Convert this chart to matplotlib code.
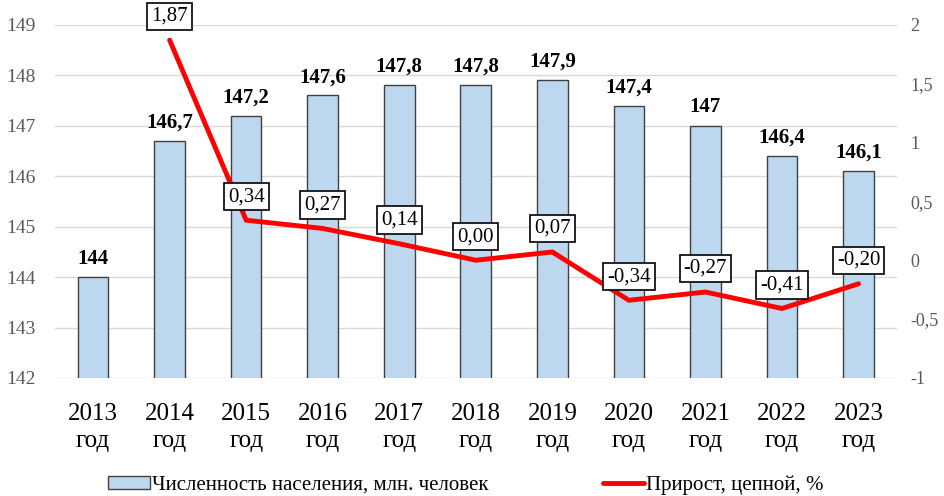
import matplotlib
matplotlib.use('Agg')
import matplotlib.pyplot as plt

# data
years = ['2013', '2014', '2015', '2016', '2017', '2018', '2019', '2020', '2021', '2022', '2023']
population = [144, 146.7, 147.2, 147.6, 147.8, 147.8, 147.9, 147.4, 147, 146.4, 146.1]
growth_years = years[1:]
growth = [1.87, 0.34, 0.27, 0.14, 0.00, 0.07, -0.34, -0.27, -0.41, -0.20]

plt.rcParams['font.family'] = ['Liberation Serif', 'DejaVu Serif']

fig = plt.figure(figsize=(9.45, 4.96), dpi=100)
ax1 = fig.add_axes([0.058, 0.238, 0.891, 0.712])
ax2 = ax1.twinx()

x = list(range(len(years)))
bars = ax1.bar(x, population, width=0.4, color='#bdd7ee', edgecolor='#404040',
               linewidth=1.0, zorder=2, label='Численность населения, млн. человек')
ax1.set_ylim(142, 149)
ax1.set_xlim(-0.5, 10.5)
ax1.set_yticks(range(142, 150))
ax1.grid(axis='y', color='#d9d9d9', linewidth=1.0, zorder=0)
ax1.set_axisbelow(True)
ax1.set_xticks(x)
ax1.set_xticklabels([y + '\nгод' for y in years], fontsize=18, linespacing=1.3)
ax1.tick_params(axis='x', length=0, pad=18)
ax1.tick_params(axis='y', length=0, labelsize=14, labelcolor='#595959', pad=14)
for s in ax1.spines.values():
    s.set_visible(False)

for xi, v in zip(x, population):
    txt = ('%g' % v).replace('.', ',')
    ax1.annotate(txt, (xi, v), xytext=(0, 6), textcoords='offset points',
                 ha='center', va='bottom', fontsize=15, fontweight='bold')

gx = x[1:]
ax2.plot(gx, growth, color='#ff0000', linewidth=3.5, zorder=3,
         label='Прирост, цепной, %', solid_capstyle='round')
ax2.set_ylim(-1, 2)
ax2.set_yticks([-1, -0.5, 0, 0.5, 1, 1.5, 2])
ax2.set_yticklabels(['-1', '-0,5', '0', '0,5', '1', '1,5', '2'])
ax2.tick_params(axis='y', length=0, labelsize=13, labelcolor='#595959', pad=10)
for s in ax2.spines.values():
    s.set_visible(False)

for xi, v in zip(gx, growth):
    txt = ('%.2f' % v).replace('.', ',')
    ax2.annotate(txt, (xi, v), xytext=(0, 17), textcoords='offset points',
                 ha='center', va='center', fontsize=15, annotation_clip=False,
                 bbox=dict(boxstyle='square,pad=0.2', fc='white', ec='black', lw=1.2))

h1, l1 = ax1.get_legend_handles_labels()
h2, l2 = ax2.get_legend_handles_labels()
fig.legend(h1 + h2, l1 + l2, loc='center', bbox_to_anchor=(0.493, 0.022), ncol=2,
           frameon=False, fontsize=15, handlelength=2.0, handleheight=0.6,
           columnspacing=5.5, handletextpad=0.1, borderpad=0)

fig.savefig('out.png', dpi=100)
